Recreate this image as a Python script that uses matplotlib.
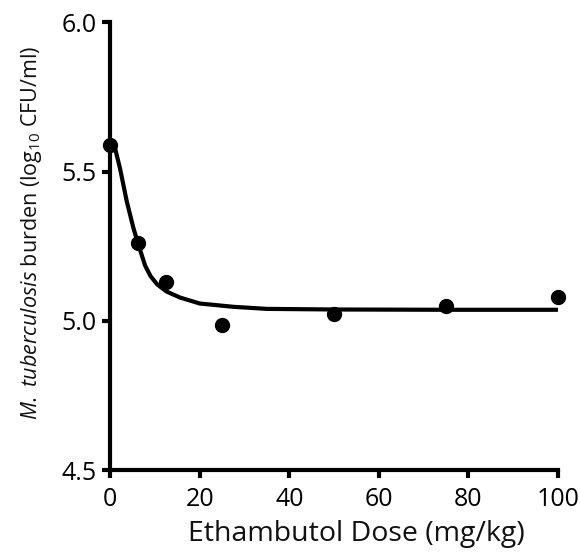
import matplotlib
matplotlib.use("Agg")
import matplotlib.pyplot as plt

plt.rcParams['font.family'] = ['Open Sans', 'DejaVu Sans']
plt.rcParams['mathtext.fontset'] = 'custom'
plt.rcParams['mathtext.rm'] = 'Open Sans'
plt.rcParams['mathtext.it'] = 'Open Sans:italic'

# Observed data points
dose = [0, 6.25, 12.5, 25, 50, 75, 100]
burden = [5.59, 5.26, 5.13, 4.985, 5.022, 5.05, 5.08]

# Fitted curve
curve_dose = [0, 0.5, 1.1, 2.2, 3.7, 5.2, 6.3, 7.8, 9.0, 10.5, 12.6, 15.6, 20, 27.5, 35, 50, 75, 100]
curve_val = [5.595, 5.592, 5.577, 5.51, 5.40, 5.31, 5.255, 5.185, 5.15, 5.122, 5.098, 5.078,
             5.058, 5.047, 5.04, 5.038, 5.037, 5.037]

xticks = [0, 20, 40, 60, 80, 100]
yticks = [4.5, 5.0, 5.5, 6.0]

fig = plt.figure(figsize=(5.8, 5.57), dpi=100)
ax = fig.add_axes([0.19, 0.156, 0.772, 0.804])

ax.plot(curve_dose, curve_val, color='black', lw=3, solid_capstyle='butt',
        solid_joinstyle='round', zorder=2, clip_on=False)
ax.plot(dose, burden, 'o', color='black', ms=10, zorder=3, clip_on=False)

ax.set_xlim(0, 100)
ax.set_ylim(4.5, 6.0)
ax.set_xticks(xticks)
ax.set_yticks(yticks)
ax.set_yticklabels([f"{v:.1f}" for v in yticks])

for s in ['top', 'right']:
    ax.spines[s].set_visible(False)
for s in ['left', 'bottom']:
    ax.spines[s].set_linewidth(3)
ax.tick_params(axis='both', direction='out', length=6, width=3, labelsize=18, colors='black')
ax.tick_params(axis='x', pad=6)
ax.tick_params(axis='y', pad=4)

ax.set_xlabel('Ethambutol Dose (mg/kg)', fontsize=20.5, color='#111111')
ax.set_ylabel(r'$\it{M.\ tuberculosis}$ burden (log$_{10}$ CFU/ml)', fontsize=15.5,
              color='#111111')
ax.xaxis.set_label_coords(0.55, -0.112)
ax.yaxis.set_label_coords(-0.148, 0.53)

fig.savefig('out.png', dpi=100)
